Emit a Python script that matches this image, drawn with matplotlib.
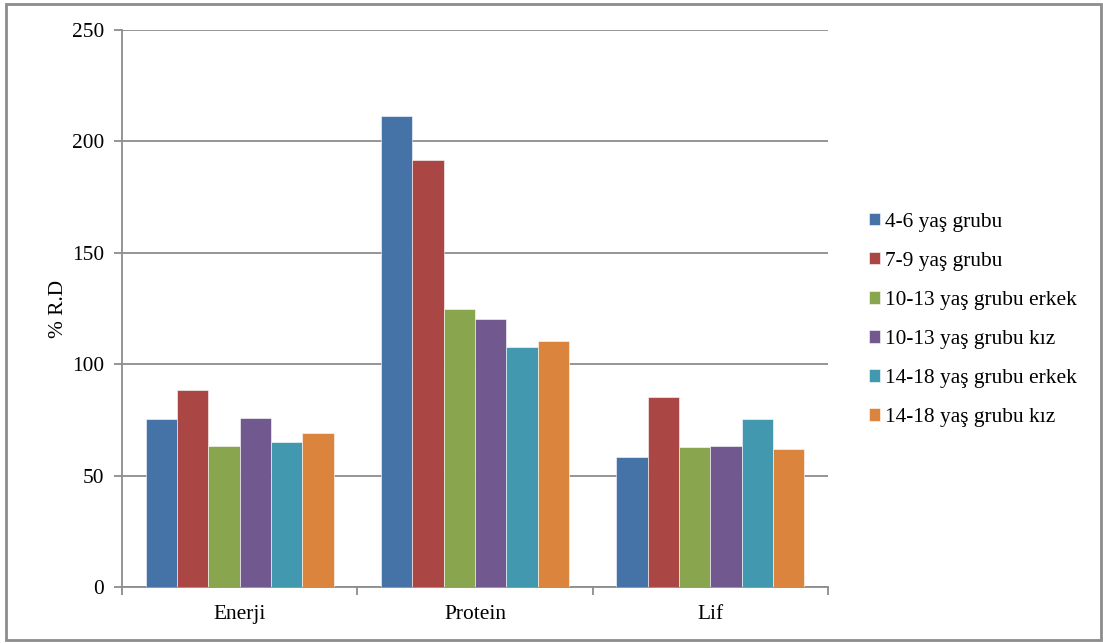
import matplotlib.pyplot as plt
from matplotlib.patches import Rectangle
import numpy as np

# kategori ve yaş grubu verileri (% R.D)
categories = ["Enerji", "Protein", "Lif"]
groups = ["4-6 yaş grubu", "7-9 yaş grubu", "10-13 yaş grubu erkek",
          "10-13 yaş grubu kız", "14-18 yaş grubu erkek", "14-18 yaş grubu kız"]
yas_4_6 = [75.3, 211.5, 58.2]
yas_7_9 = [88.4, 191.7, 85.3]
yas_10_13_erkek = [63.3, 124.6, 62.7]
yas_10_13_kiz = [75.9, 120.4, 63.4]
yas_14_18_erkek = [65.1, 107.6, 75.3]
yas_14_18_kiz = [69.3, 110.4, 61.8]
values = [yas_4_6, yas_7_9, yas_10_13_erkek, yas_10_13_kiz, yas_14_18_erkek, yas_14_18_kiz]
colors = ["#4572a7", "#aa4643", "#89a54e", "#71588f", "#4198af", "#db843d"]

plt.rcParams['font.family'] = ['Liberation Serif', 'DejaVu Serif']
fs = 15.4

fig = plt.figure(figsize=(11.03, 6.43), dpi=100)
ax = fig.add_axes([122 / 1103, 1 - 587 / 643, 706 / 1103, 557 / 643])

x = np.arange(len(categories))
width = 0.8 / len(groups)
for i, (name, vals) in enumerate(zip(groups, values)):
    ax.bar(x - 0.4 + width * (i + 0.5), vals, width, color=colors[i],
           edgecolor="white", linewidth=0.4, label=name, zorder=3)

ax.set_xlim(-0.5, 2.5)
ax.set_ylim(0, 250)
ax.set_yticks(range(0, 251, 50))
ax.yaxis.grid(True, color="#8c8c8c", linewidth=1.3, zorder=0)

# x ekseni tikleri kategori sınırlarında
ax.set_xticks([-0.5, 0.5, 1.5, 2.5])
ax.set_xticklabels([])
ax.set_xticks(x, minor=True)
ax.set_xticklabels(categories, minor=True, fontsize=fs)
ax.tick_params(axis="x", which="minor", length=0, pad=13)
ax.tick_params(axis="x", which="major", length=6, width=1.3, color="#8c8c8c")
ax.tick_params(axis="y", length=6, width=1.3, color="#8c8c8c", labelsize=fs, pad=7)

for side in ["top", "right"]:
    ax.spines[side].set_visible(False)
for side in ["left", "bottom"]:
    ax.spines[side].set_color("#8c8c8c")
    ax.spines[side].set_linewidth(1.3)

ax.set_ylabel("% R.D", fontsize=fs)
ax.yaxis.set_label_coords((68 - 122) / 706, 0.5)

fig.legend(loc="center left", bbox_to_anchor=(869 / 1103, 1 - 320 / 643),
           frameon=False, fontsize=fs, handlelength=0.52, handleheight=0.52,
           handletextpad=0.25, labelspacing=0.94, borderpad=0, borderaxespad=0)

# dış çerçeve
fig.patches.append(Rectangle((6 / 1103, 3 / 643), 1095 / 1103, 636 / 643,
                             transform=fig.transFigure, fill=False,
                             edgecolor="#8c8c8c", linewidth=2))

fig.savefig("out.png", dpi=100)
